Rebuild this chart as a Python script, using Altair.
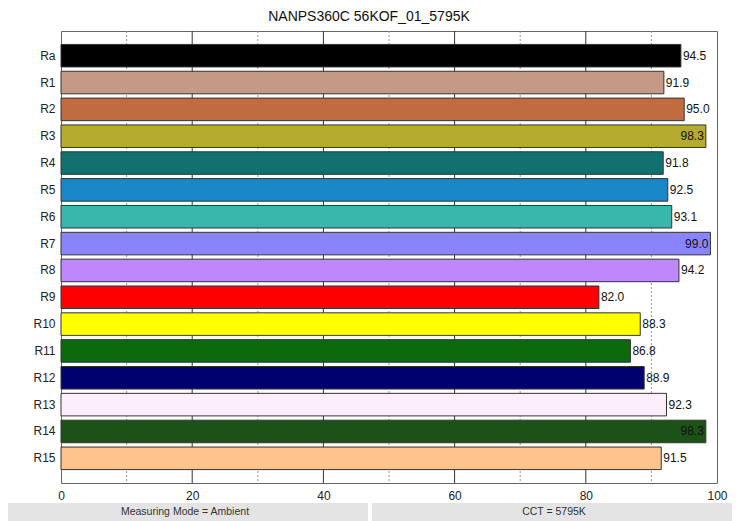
import altair as alt
import pandas as pd

# valores
labels = ["Ra", "R1", "R2", "R3", "R4", "R5", "R6", "R7",
          "R8", "R9", "R10", "R11", "R12", "R13", "R14", "R15"]
values = [94.5, 91.9, 95.0, 98.3, 91.8, 92.5, 93.1, 99.0,
          94.2, 82.0, 88.3, 86.8, 88.9, 92.3, 98.3, 91.5]
colors = ["#000000", "#c49a86", "#c06c40", "#b5ab2e", "#117070", "#1a88c8",
          "#38b8ac", "#8a84fc", "#bc88fc", "#ff0000", "#ffff00", "#0c6a0c",
          "#00006e", "#fdeefd", "#1c5218", "#ffc48c"]
major_ticks = [20, 40, 60, 80]
minor_ticks = [10, 30, 50, 70, 90]
title_text = "NANPS360C 56KOF_01_5795K"
footer_left = "Measuring Mode = Ambient"
footer_right = "CCT = 5795K"

W, H = 656, 452

df = pd.DataFrame({"label": labels, "value": values, "color": colors})
df["inside"] = df["value"] > 97

x_scale = alt.Scale(domain=[0, 100], nice=False)
y_enc = alt.Y("label:N", sort=labels, title=None,
              scale=alt.Scale(paddingInner=0.16, paddingOuter=0.5),
              axis=alt.Axis(ticks=False, domain=False, labelFontSize=12,
                            labelColor="#222", labelPadding=6))
x_enc = alt.X("value:Q", scale=x_scale, title=None,
              axis=alt.Axis(values=[0, 20, 40, 60, 80, 100], ticks=False,
                            domain=False, grid=False, labelFontSize=12,
                            labelColor="#222", labelPadding=7, labelFlush=False))

# grade: linhas cheias a cada 20, pontilhadas a cada 10
minor = alt.Chart(pd.DataFrame({"t": minor_ticks})).mark_rule(
    color="#999", strokeDash=[2, 2], strokeWidth=1
).encode(x=alt.X("t:Q", scale=x_scale))
major = alt.Chart(pd.DataFrame({"t": major_ticks})).mark_rule(
    color="#333", strokeWidth=1
).encode(x=alt.X("t:Q", scale=x_scale))

base = alt.Chart(df)
bars = base.mark_bar(stroke="#333", strokeWidth=1).encode(
    x=x_enc, y=y_enc,
    color=alt.Color("color:N", scale=None),
)
text_out = base.transform_filter("!datum.inside").mark_text(
    align="left", baseline="middle", dx=2, fontSize=12, color="#111"
).encode(x=alt.X("value:Q", scale=x_scale), y=alt.Y("label:N", sort=labels),
         text=alt.Text("value:Q", format=".1f"))
text_in = base.transform_filter("datum.inside").mark_text(
    align="right", baseline="middle", dx=-2, fontSize=12, color="#111"
).encode(x=alt.X("value:Q", scale=x_scale), y=alt.Y("label:N", sort=labels),
         text=alt.Text("value:Q", format=".1f"))

# título centrado na página
title = alt.Chart(pd.DataFrame({"t": [title_text]})).mark_text(
    fontSize=14, color="#111", align="center", baseline="alphabetic"
).encode(x=alt.value(308), y=alt.value(-10), text="t:N")

# rodapé com as duas caixas cinzentas
fl = alt.Chart(pd.DataFrame({"t": [footer_left]}))
fr = alt.Chart(pd.DataFrame({"t": [footer_right]}))
box_l = fl.mark_rect(color="#e4e4e4").encode(
    x=alt.value(-59), x2=alt.value(307), y=alt.value(472), y2=alt.value(495))
box_r = fr.mark_rect(color="#e4e4e4").encode(
    x=alt.value(311), x2=alt.value(676), y=alt.value(472), y2=alt.value(495))
txt_l = fl.mark_text(fontSize=10.5, color="#333", baseline="middle").encode(
    x=alt.value(124), y=alt.value(481), text="t:N")
txt_r = fr.mark_text(fontSize=10.5, color="#333", baseline="middle").encode(
    x=alt.value(493), y=alt.value(481), text="t:N")

chart = alt.layer(minor, major, bars, text_out, text_in, title,
                  box_l, box_r, txt_l, txt_r).properties(
    width=W, height=H,
    autosize=alt.AutoSizeParams(type="none"),
    padding={"left": 53, "top": 23, "right": 15, "bottom": 38},
).configure_view(stroke="#666", strokeWidth=1)

chart.save("out.html", embed_options={"renderer": "svg", "actions": False})
